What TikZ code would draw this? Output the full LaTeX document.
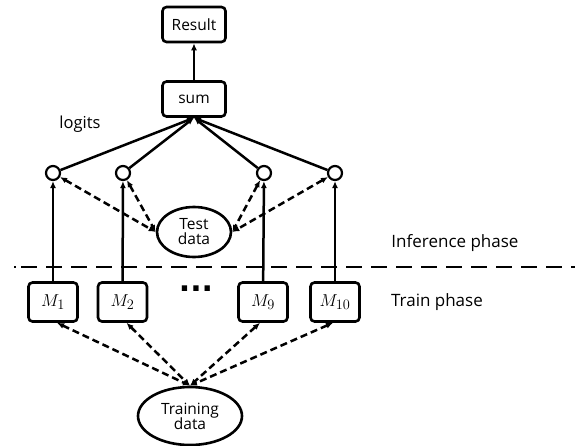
\documentclass[tikz,border=0pt]{standalone}
\usepackage{fontspec}
\setmainfont{Open Sans}
\newfontfamily\dotfont{DejaVu Sans}
\usetikzlibrary{arrows.meta,shapes.geometric}
\begin{document}
\begin{tikzpicture}[x=1pt,y=-1pt,
  box/.style={draw,line width=2.6pt,rounded corners=4pt,minimum width=63pt,minimum height=35pt,inner sep=0pt,font=\fontsize{15.5}{17}\selectfont},
  mbox/.style={draw,line width=2.6pt,rounded corners=4pt,minimum width=49pt,minimum height=39pt,inner sep=0pt,font=\fontsize{19}{21}\selectfont},
  oval/.style={draw,ellipse,line width=2.6pt,inner sep=0pt,align=center,font=\fontsize{15.5}{18}\selectfont},
  logit/.style={draw,circle,line width=2.2pt,minimum size=14pt,inner sep=0pt},
  solidarr/.style={line width=2.5pt,-{Latex[length=7pt,width=6pt]}},
  dasharr/.style={line width=2.5pt,dash pattern=on 7pt off 4pt,{Latex[length=7pt,width=6pt]}-{Latex[length=7pt,width=6pt]}},
  lbl/.style={font=\fontsize{17}{19}\selectfont}]
\useasboundingbox (0,0) rectangle (575,445);

% top of the ensemble
\node[box] (result) at (194,24.5) {Result};
\node[box] (sum) at (194,99) {sum};
\draw[solidarr] (sum) -- (result);
\node[lbl,font=\fontsize{16.5}{18}\selectfont] (logits) at (80,124) {logits};

% logit outputs
\node[logit] (c1) at (53,173) {};
\node[logit] (c2) at (123,173) {};
\node[logit] (c3) at (264,173) {};
\node[logit] (c4) at (335,173) {};
\foreach \c in {c1,c2,c3,c4} \draw[solidarr] (\c) -- (sum.south);

% inference input
\node[oval,minimum width=74pt,minimum height=50pt] (test) at (194,232) {Test\\[-3pt]data};
\draw[dasharr] (c1) -- (test.west);
\draw[dasharr] (c2) -- (test.west);
\draw[dasharr] (c3) -- (test.east);
\draw[dasharr] (c4) -- (test.east);

% phase separator: a lone dot, then long dashes
\coordinate (sepDot) at (14,267);
\coordinate (sepL) at (21,267);
\coordinate (sepR) at (575,267);
\draw[line width=1.6pt] (sepDot) -- ++(2,0);
\draw[line width=1.6pt,dash pattern=on 16pt off 9pt] (sepL) -- (sepR);
\node[lbl] (inf) at (455,243) {Inference phase};
\node[lbl] (train) at (437,302) {Train phase};

% base models
\node[mbox] (m1) at (53,302) {$M_1$};
\node[mbox] (m2) at (122.5,302) {$M_2$};
\node[font=\dotfont\fontsize{30}{30}\selectfont\bfseries] (dots) at (196,289) {...};
\node[mbox] (m9) at (263,302) {$M_9$};
\node[mbox] (m10) at (335,302) {$M_{10}$};
\draw[solidarr] (m1) -- (c1);
\draw[solidarr] (m2) -- (c2);
\draw[solidarr] (m9) -- (c3);
\draw[solidarr] (m10) -- (c4);

% training input
\node[oval,minimum width=104pt,minimum height=58pt] (trainset) at (190,416) {Training\\[-3pt]data};
\path (m1.south) ++(4,0) coordinate (m1b);
\path (m2.south) ++(4,0) coordinate (m2b);
\path (m9.south) ++(-3,0) coordinate (m9b);
\path (m10.south) ++(-2,0) coordinate (m10b);
\foreach \m in {m1b,m2b,m9b,m10b} \draw[dasharr] (\m) -- (trainset.north);
\end{tikzpicture}
\end{document}
